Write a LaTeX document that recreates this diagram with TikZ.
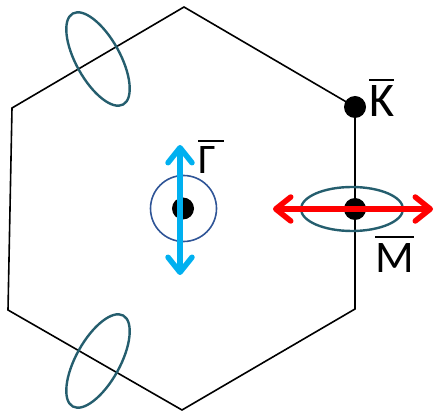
\documentclass[tikz,border=0pt]{standalone}
\usepackage{fontspec}
\setmainfont{Carlito}
\usetikzlibrary{arrows.meta}
\definecolor{pocketc}{HTML}{255E6E}
\definecolor{ringc}{HTML}{2F5597}
\definecolor{bluearr}{HTML}{00B0F0}
\definecolor{redarr}{HTML}{FF0000}
\newcommand\barlabel[2][0pt]{\setbox0\hbox{#2}\vbox{\hrule height 2pt width \dimexpr\wd0+#1\relax \vskip 5pt \box0}}
\begin{document}
\begin{tikzpicture}[x=1pt,y=1pt,
  edge/.style={line width=1.6pt, black, line join=miter},
  dotnode/.style={circle, fill=black, inner sep=0pt, minimum size=22pt},
  lab/.style={font=\fontsize{46pt}{50pt}\selectfont, inner sep=0pt, anchor=base west},
  pocket/.style={draw=pocketc, line width=2.4pt},
  ring/.style={draw=ringc, line width=1.6pt},
  dirarrow/.style={line width=5.5pt,
    {Straight Barb[length=15pt,width=24pt,line cap=round,line join=round]}-{Straight Barb[length=15pt,width=24pt,line cap=round,line join=round]}}]
\useasboundingbox (0,0) rectangle (435,412);
% hexagon vertices
\coordinate (T)  at (184,405);
\coordinate (UL) at (12,304);
\coordinate (LL) at (8,102);
\coordinate (B)  at (182,2);
\coordinate (LR) at (355,103);
\coordinate (Kc) at (355,305);
\draw[edge] (Kc) -- (T) -- (UL) -- (LL) -- (B) -- (LR) -- cycle;
% pockets
\draw[pocket, rotate around={-61:(98,353)}] (98,353) ellipse [x radius=52, y radius=22];
\draw[pocket, rotate around={61:(98,51)}] (98,51) ellipse [x radius=52, y radius=22];
\draw[pocket] (352,203) ellipse [x radius=51, y radius=22];
\draw[ring] (183.5,203.5) circle [radius=33];
% points
\node[dotnode] (G) at (183,203.5) {};
\node[dotnode] (K) at (355,305) {};
\node[dotnode] (M) at (355,203) {};
% arrows
\coordinate (bT) at (180,267);
\coordinate (bB) at (180,137);
\coordinate (rL) at (273,203);
\coordinate (rR) at (433,203);
\draw[dirarrow, bluearr] (bB) -- (bT);
\draw[dirarrow, redarr] (rL) -- (rR);
% labels
\node[lab] (Gl) at (198,238) {\barlabel[8pt]{\resizebox{!}{27pt}{Γ}}};
\node[lab] (Kl) at (369,295) {\barlabel{\resizebox{!}{31pt}{K}}};
\node[lab] (Ml) at (375,140) {\barlabel{\resizebox{!}{29pt}{M}}};
\end{tikzpicture}
\end{document}
